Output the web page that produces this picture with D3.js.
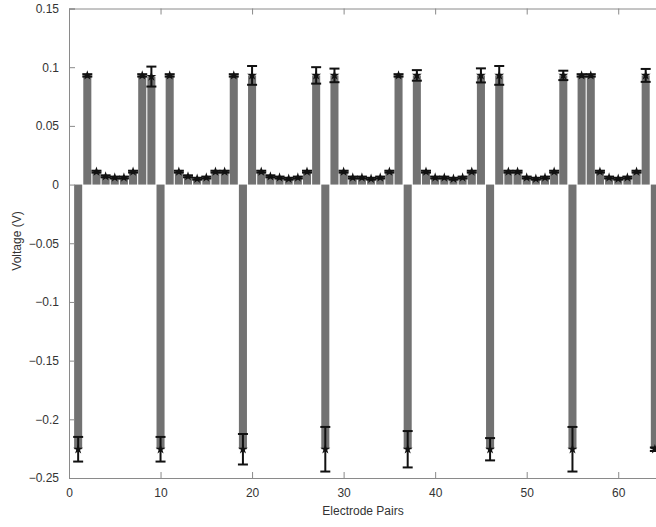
<!DOCTYPE html>
<html>
<head>
<meta charset="utf-8">
<script src="https://cdn.jsdelivr.net/npm/d3@7"></script>
<style>
  body { margin: 0; background: #fff; }
  svg { display: block; }
  text { font-family: "Liberation Sans", Arial, sans-serif; fill: #333; }
</style>
</head>
<body>
<svg id="chart" width="656" height="527"></svg>
<script>
// Dados
const pares = d3.range(1, 65); // eletrodos 1..64
const tensao = [
  -0.2255, 0.093, 0.011, 0.007, 0.006, 0.006, 0.011, 0.093, 0.092,
  -0.2255, 0.093, 0.011, 0.007, 0.005, 0.006, 0.011, 0.011, 0.093,
  -0.2255, 0.093, 0.011, 0.007, 0.006, 0.005, 0.006, 0.011, 0.093,
  -0.2255, 0.093, 0.011, 0.006, 0.006, 0.005, 0.006, 0.011, 0.093,
  -0.2255, 0.093, 0.011, 0.006, 0.006, 0.005, 0.006, 0.011, 0.093,
  -0.2255, 0.093, 0.011, 0.011, 0.006, 0.005, 0.006, 0.011, 0.093,
  -0.2255, 0.093, 0.093, 0.011, 0.006, 0.005, 0.006, 0.011, 0.093,
  -0.2255
];
const erro = [
  0.0105, 0.001, 0.0008, 0.0008, 0.0008, 0.0008, 0.0008, 0.001, 0.0085,
  0.0105, 0.001, 0.0008, 0.0008, 0.0008, 0.0008, 0.0008, 0.0008, 0.001,
  0.013, 0.008, 0.0008, 0.0008, 0.0008, 0.0008, 0.0008, 0.0008, 0.007,
  0.019, 0.0058, 0.0008, 0.0008, 0.0008, 0.0008, 0.0008, 0.0008, 0.001,
  0.0155, 0.0045, 0.0008, 0.0008, 0.0008, 0.0008, 0.0008, 0.0008, 0.006,
  0.0095, 0.008, 0.0008, 0.0008, 0.0008, 0.0008, 0.0008, 0.0008, 0.004,
  0.019, 0.001, 0.001, 0.0008, 0.0008, 0.0008, 0.0008, 0.0008, 0.0055,
  0.0015
];
const yTicks = [0.15, 0.1, 0.05, 0, -0.05, -0.1, -0.15, -0.2, -0.25];
const xTicks = [0, 10, 20, 30, 40, 50, 60];

const dados = pares.map((p, i) => ({ par: p, v: tensao[i], e: erro[i] }));

const svg = d3.select("#chart");
const esq = 69, dir = 664, topo = 8.5, base = 478;

const x = d3.scaleLinear().domain([0, 65]).range([esq, dir]);
const y = d3.scaleLinear().domain([-0.25, 0.15]).range([base, topo]);
const passo = x(1) - x(0);
const larg = passo * 0.88;

// Barras
svg.append("g")
  .selectAll("rect")
  .data(dados)
  .enter().append("rect")
  .attr("x", d => x(d.par) - larg / 2)
  .attr("width", larg)
  .attr("y", d => y(Math.max(0, d.v)))
  .attr("height", d => Math.abs(y(d.v) - y(0)))
  .attr("fill", "#727272");

// Barras de erro
const eb = svg.append("g").attr("stroke", "#111").attr("stroke-width", 2);
const cap = 5;
dados.forEach(d => {
  const cx = x(d.par);
  eb.append("line").attr("x1", cx).attr("x2", cx)
    .attr("y1", y(d.v + d.e)).attr("y2", y(d.v - d.e));
  [d.v + d.e, d.v - d.e].forEach(t => {
    eb.append("line").attr("x1", cx - cap).attr("x2", cx + cap)
      .attr("y1", y(t)).attr("y2", y(t));
  });
});

svg.append("g")
  .selectAll("path")
  .data(dados)
  .enter().append("path")
  .attr("d", d3.symbol().type(d3.symbolStar).size(30))
  .attr("transform", d => `translate(${x(d.par)},${y(d.v)})`)
  .attr("fill", "#111");

// Eixos
const cinza = "#8a8a8a";
const eixoX = svg.append("g").attr("transform", `translate(0,${base})`)
  .call(d3.axisBottom(x).tickValues(xTicks).tickSize(-6).tickPadding(10).tickFormat(d3.format("d")));
const eixoXTopo = svg.append("g").attr("transform", `translate(0,${topo})`)
  .call(d3.axisTop(x).tickValues(xTicks).tickSize(-6).tickFormat(""));
const eixoY = svg.append("g").attr("transform", `translate(${esq},0)`)
  .call(d3.axisLeft(y).tickValues(yTicks).tickSize(-6).tickPadding(10).tickFormat(d => d === 0 ? "0" : d3.format("")(+d.toFixed(2))));

[eixoX, eixoXTopo, eixoY].forEach(g => {
  g.select(".domain").attr("stroke", cinza);
  g.selectAll(".tick line").attr("stroke", cinza);
  g.selectAll("text").attr("font-size", 12).attr("fill", "#333")
    .style("font-family", "'Liberation Sans', Arial, sans-serif");
});

// Rótulos
svg.append("text")
  .attr("x", 363).attr("y", 515)
  .attr("text-anchor", "middle")
  .attr("font-size", 12)
  .text("Electrode Pairs");

svg.append("text")
  .attr("transform", "translate(21,241) rotate(-90)")
  .attr("text-anchor", "middle")
  .attr("font-size", 12)
  .text("Voltage (V)");
</script>
</body>
</html>
